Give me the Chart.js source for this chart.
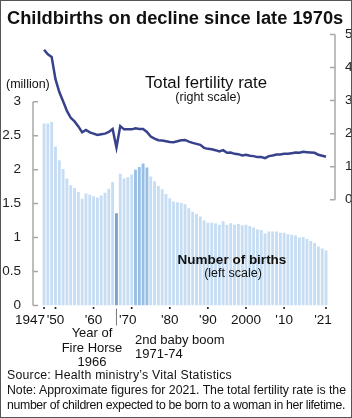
<!DOCTYPE html>
<html>
<head>
<meta charset="utf-8">
<script src="https://cdn.jsdelivr.net/npm/chart.js@4.4.0/dist/chart.umd.min.js"></script>
<style>
  body { margin: 0; background: #fff; }
  #wrap { position: relative; width: 352px; height: 418px; font-family: "Liberation Sans", Arial, sans-serif; color: #111; }
  #chart { position: absolute; left: 0; top: 0; }
  #frame { position: absolute; left: 0; top: 0; width: 352px; height: 418px; box-sizing: border-box; border: 1px solid #555; pointer-events: none; }
  #title { position: absolute; left: 7px; top: 7px; font-size: 18.3px; font-weight: bold; white-space: nowrap; }
  #notes { position: absolute; left: 7px; top: 368px; font-size: 12.3px; line-height: 15px; white-space: nowrap; }
  #notes span { display: inline-block; }
</style>
</head>
<body>
<div id="wrap">
  <canvas id="chart" width="352" height="418"></canvas>
  <div id="title">Childbirths on decline since late 1970s</div>
  <div id="notes"><span data-w="225">Source: Health ministry’s Vital Statistics</span><br><span data-w="339">Note: Approximate figures for 2021. The total fertility rate is the</span><br><span data-w="338">number of children expected to be born to a woman in her lifetime.</span></div>
  <div id="frame"></div>
</div>
<script>
const years = [1947, 1948, 1949, 1950, 1951, 1952, 1953, 1954, 1955, 1956,
  1957, 1958, 1959, 1960, 1961, 1962, 1963, 1964, 1965, 1966,
  1967, 1968, 1969, 1970, 1971, 1972, 1973, 1974, 1975, 1976,
  1977, 1978, 1979, 1980, 1981, 1982, 1983, 1984, 1985, 1986,
  1987, 1988, 1989, 1990, 1991, 1992, 1993, 1994, 1995, 1996,
  1997, 1998, 1999, 2000, 2001, 2002, 2003, 2004, 2005, 2006,
  2007, 2008, 2009, 2010, 2011, 2012, 2013, 2014, 2015, 2016,
  2017, 2018, 2019, 2020, 2021];

// births, millions (left scale)
const births = [2.68, 2.68, 2.70, 2.34, 2.14, 2.01, 1.87, 1.77, 1.73, 1.67,
  1.57, 1.65, 1.63, 1.61, 1.59, 1.62, 1.66, 1.72, 1.82, 1.36,
  1.94, 1.87, 1.89, 1.93, 2.00, 2.04, 2.09, 2.03, 1.90, 1.83,
  1.76, 1.71, 1.64, 1.58, 1.53, 1.52, 1.51, 1.49, 1.43, 1.38,
  1.35, 1.31, 1.25, 1.22, 1.22, 1.21, 1.19, 1.24, 1.19, 1.21,
  1.19, 1.20, 1.18, 1.19, 1.17, 1.15, 1.12, 1.11, 1.06, 1.09,
  1.09, 1.09, 1.07, 1.07, 1.05, 1.04, 1.03, 1.00, 1.01, 0.98,
  0.95, 0.92, 0.87, 0.84, 0.81];

// total fertility rate (right scale)
const tfr = [4.54, 4.40, 4.32, 3.65, 3.26, 2.98, 2.69, 2.48, 2.37, 2.22,
  2.04, 2.11, 2.04, 2.00, 1.96, 1.98, 2.00, 2.05, 2.14, 1.58,
  2.23, 2.13, 2.13, 2.13, 2.16, 2.14, 2.14, 2.05, 1.91, 1.85,
  1.80, 1.79, 1.77, 1.75, 1.74, 1.77, 1.80, 1.81, 1.76, 1.72,
  1.69, 1.66, 1.57, 1.54, 1.53, 1.50, 1.46, 1.50, 1.42, 1.43,
  1.39, 1.38, 1.34, 1.36, 1.33, 1.32, 1.29, 1.29, 1.26, 1.32,
  1.34, 1.37, 1.37, 1.39, 1.39, 1.41, 1.43, 1.42, 1.45, 1.44,
  1.43, 1.42, 1.36, 1.33, 1.30];

const leftTicks = [0, 0.5, 1, 1.5, 2, 2.5, 3];
const rightTicks = [0, 1, 2, 3, 4, 5];
const xTickYears = [1947, 1950, 1960, 1970, 1980, 1990, 2000, 2010, 2021];
const xTickLabels = ['1947', "'50", "'60", "'70", "'80", "'90", '2000', "'10", "'21"];

const FONT = '"Liberation Sans", Arial, sans-serif';

// squeeze each footnote line to the width it has in the original
document.querySelectorAll('#notes span').forEach(el => {
  const w = el.getBoundingClientRect().width;
  const n = el.textContent.length;
  el.style.letterSpacing = ((+el.dataset.w - w) / n).toFixed(3) + 'px';
});

// axes lines, tick marks and the text inside the chart
const decor = {
  id: 'decor',
  beforeDatasetsDraw(chart) {
    const ctx = chart.ctx;
    const yl = chart.scales.y, yr = chart.scales.y2;
    const a = chart.chartArea;
    ctx.save();
    ctx.strokeStyle = '#a8a8a8';
    ctx.lineWidth = 1.5;
    ctx.beginPath();
    ctx.moveTo(a.left, yl.getPixelForValue(0));
    ctx.lineTo(a.left, yl.getPixelForValue(3));
    leftTicks.forEach(v => {
      const p = yl.getPixelForValue(v);
      ctx.moveTo(a.left, p); ctx.lineTo(a.left + 5, p);
    });
    ctx.moveTo(a.right, yr.getPixelForValue(0));
    ctx.lineTo(a.right, yr.getPixelForValue(5));
    rightTicks.forEach(v => {
      const p = yr.getPixelForValue(v);
      ctx.moveTo(a.right, p); ctx.lineTo(a.right - 5, p);
    });
    ctx.stroke();
    ctx.restore();
  },
  afterDraw(chart) {
    const ctx = chart.ctx;
    const x = chart.scales.x;
    const a = chart.chartArea;
    ctx.save();
    // x tick dots and labels
    const shift = {1947: -14, 1970: -4, 2021: -3};
    ctx.fillStyle = '#111';
    ctx.font = '13.5px ' + FONT;
    ctx.textAlign = 'center';
    ctx.textBaseline = 'middle';
    xTickYears.forEach((yr, i) => {
      const px = x.getPixelForValue(yr);
      ctx.beginPath();
      ctx.arc(px, a.bottom + 2.5, 1, 0, Math.PI * 2);
      ctx.fill();
      ctx.fillText(xTickLabels[i], px + (shift[yr] || 0), a.bottom + 15);
    });
    // fire horse marker
    const fx = x.getPixelForValue(1966);
    ctx.strokeStyle = '#777';
    ctx.lineWidth = 1;
    ctx.beginPath();
    ctx.moveTo(fx, a.bottom + 3);
    ctx.lineTo(fx, a.bottom + 20);
    ctx.stroke();

    ctx.font = '13px ' + FONT;
    ctx.fillText('Year of', 92, 333);
    ctx.fillText('Fire Horse', 92, 348);
    ctx.fillText('1966', 92, 362);
    ctx.textAlign = 'left';
    ctx.fillText('2nd baby boom', 135, 340);
    ctx.fillText('1971-74', 135, 354);

    // "(million)"
    ctx.font = '12.5px ' + FONT;
    ctx.fillText('(million)', 6, 85);

    // series labels
    ctx.textAlign = 'center';
    ctx.font = '16.8px ' + FONT;
    ctx.fillText('Total fertility rate', 206, 83);
    ctx.font = '12.5px ' + FONT;
    ctx.fillText('(right scale)', 208, 98);
    ctx.font = 'bold 13.5px ' + FONT;
    ctx.fillText('Number of births', 232, 260);
    ctx.font = '12.5px ' + FONT;
    ctx.fillText('(left scale)', 233, 274);
    ctx.restore();
  }
};

const config = {
  data: {
    datasets: [
      {
        type: 'line',
        label: 'Total fertility rate',
        data: years.map((yr, i) => ({x: yr, y: tfr[i]})),
        yAxisID: 'y2',
        borderColor: 'rgb(56, 66, 140)',
        borderWidth: 2.5,
        pointRadius: 0,
        tension: 0,
        order: 0
      },
      {
        type: 'bar',
        label: 'Number of births',
        data: years.map((yr, i) => ({x: yr, y: births[i]})),
        yAxisID: 'y',
        backgroundColor: c => {
          const yr = c.raw && c.raw.x;
          if (yr === 1966) return 'rgb(122, 162, 204)';
          if (yr >= 1971 && yr <= 1974) return 'rgb(150, 190, 230)';
          return 'rgb(198, 221, 243)';
        },
        barPercentage: 0.75,
        categoryPercentage: 1,
        order: 1
      }
    ]
  },
  options: {
    responsive: false,
    animation: false,
    devicePixelRatio: 1,
    layout: { padding: { left: 0, right: 0, top: 34.5, bottom: 112.5 } },
    plugins: { legend: { display: false }, tooltip: { enabled: false } },
    scales: {
      x: { type: 'linear', min: 1944.1, max: 2023.36, offset: false, display: false },
      y: {
        position: 'left',
        min: 0,
        max: 3.99,
        afterFit: s => { s.width = 33; },
        afterBuildTicks: s => { s.ticks = leftTicks.map(v => ({value: v})); },
        ticks: { font: {family: FONT, size: 13.5}, color: '#222', padding: 4, callback: v => String(v) },
        grid: { display: false },
        border: { display: false }
      },
      y2: {
        position: 'right',
        min: -3.2,
        max: 5,
        afterFit: s => { s.width = 17; },
        afterBuildTicks: s => { s.ticks = rightTicks.map(v => ({value: v})); },
        ticks: { font: {family: FONT, size: 13.5}, color: '#222', padding: 2, callback: v => String(v) },
        grid: { display: false },
        border: { display: false }
      }
    }
  },
  plugins: [decor]
};

const myChart = new Chart(document.getElementById('chart'), config);
</script>
</body>
</html>
